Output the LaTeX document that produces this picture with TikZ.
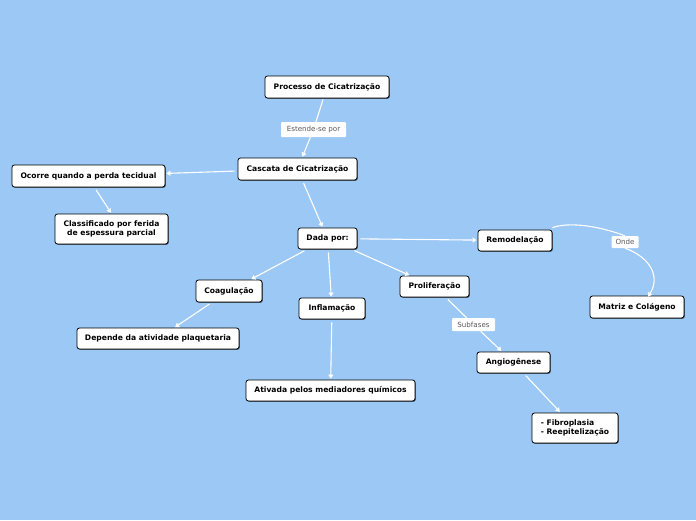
\documentclass[tikz,border=0pt]{standalone}
\usepackage{fontspec}
\setmainfont{DejaVu Sans}
\usetikzlibrary{arrows.meta,shadows}
\definecolor{bg}{RGB}{155,200,245}
\definecolor{lbl}{RGB}{90,90,90}
\begin{document}
\begin{tikzpicture}[x=1pt,y=-1pt,
  box/.style={draw=black,fill=white,rounded corners=2.5pt,line width=0.8pt,
    font=\bfseries\fontsize{7.6}{9}\selectfont,inner sep=0pt,align=center,
    drop shadow={shadow xshift=0.8pt,shadow yshift=-0.8pt,opacity=0.6,fill=black}},
  tag/.style={fill=white,rounded corners=1pt,inner sep=0pt,text=lbl,
    font=\fontsize{7.1}{8}\selectfont},
  conn/.style={draw=white,line width=1.1pt,-{Triangle[width=5pt,length=4pt]},shorten <=3pt,shorten >=1pt}]
\fill[bg] (0,0) rectangle (696,520);
\useasboundingbox (0,0) rectangle (696,520);

\node[box,minimum width=124pt,minimum height=22pt] (proc) at (327,87) {Processo de Cicatrização};
\node[box,minimum width=119pt,minimum height=22pt] (casc) at (297.5,169) {Cascata de Cicatrização};
\node[box,minimum width=153pt,minimum height=22pt] (ocor) at (88.5,176) {Ocorre quando a perda tecidual};
\node[box,minimum width=113pt,minimum height=30pt] (clas) at (111.5,229) {Classificado por ferida\\de espessura parcial};
\node[box,minimum width=59pt,minimum height=21pt] (dada) at (327.5,238.5) {Dada por:};
\node[box,minimum width=74pt,minimum height=21pt] (remo) at (515,240.5) {Remodelação};
\node[box,minimum width=94pt,minimum height=22pt] (matr) at (637,307) {Matriz e Colágeno};
\node[box,minimum width=66pt,minimum height=22pt] (coag) at (229,291) {Coagulação};
\node[box,minimum width=66pt,minimum height=21pt] (infl) at (332,308.5) {Inflamação};
\node[box,minimum width=69pt,minimum height=21pt] (prol) at (434.5,286.5) {Proliferação};
\node[box,minimum width=162pt,minimum height=21pt] (depe) at (158,338.5) {Depende da atividade plaquetaria};
\node[box,minimum width=169pt,minimum height=21pt] (ativ) at (330.5,390.5) {Ativada pelos mediadores químicos};
\node[box,minimum width=73pt,minimum height=21pt] (angi) at (513.5,362.5) {Angiogênese};
\node[box,minimum width=86pt,minimum height=30pt,align=left] (fibr) at (575,428) {- Fibroplasia\\- Reepitelização};

\node[tag,minimum width=65pt,minimum height=15pt] (t1) at (313.5,129.5) {Estende-se por};
\node[tag,minimum width=43pt,minimum height=13pt] (t2) at (473.5,324.5) {Subfases};
\node[tag,minimum width=27pt,minimum height=12pt] (t3) at (625,242) {Onde};

\draw[draw=white,line width=1.1pt,shorten <=1pt] (proc) -- (t1);
\draw[conn,shorten <=0pt] (t1) -- (casc);
\draw[conn] (casc) -- (ocor);
\draw[conn] (ocor.south) ++(6pt,0pt) coordinate (o1) (o1) -- (clas.north);
\draw[conn] (casc) -- (dada);
\draw[conn] (dada) -- (remo);
\draw[conn] (dada) -- (coag);
\draw[conn] (dada) -- (infl);
\draw[conn] (dada) -- (prol);
\draw[conn] (coag) -- (depe);
\draw[conn] (infl) -- (ativ);
\draw[draw=white,line width=1.1pt,shorten <=3pt] (prol) -- (t2);
\draw[conn,shorten <=0pt] (t2) -- (angi);
\draw[conn] (angi) -- (fibr);
\draw[draw=white,line width=1.1pt] (remo.north east) ++(0pt,2pt) coordinate (r1)
  (r1) .. controls (575,220) and (610,230) .. (t3.north);
\draw[draw=white,line width=1.1pt,-{Triangle[width=5pt,length=4pt]}] (t3.south)
  .. controls (652,258) and (660,278) .. ([xshift=11pt,yshift=-1pt]matr.north);
\end{tikzpicture}
\end{document}
